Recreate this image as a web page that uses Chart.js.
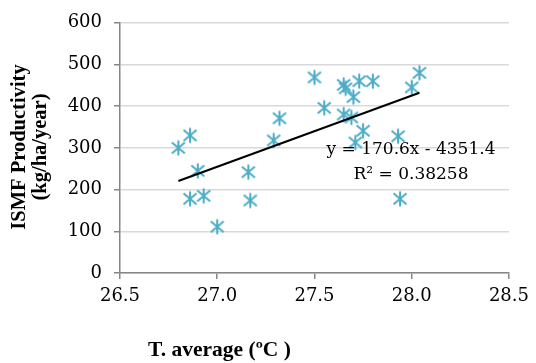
<!DOCTYPE html>
<html>
<head>
<meta charset="utf-8">
<script src="https://cdn.jsdelivr.net/npm/chart.js@4"></script>
<style>
  html, body { margin: 0; padding: 0; background: #fff; }
  #wrap { width: 536px; height: 363px; }
</style>
</head>
<body>
<div id="wrap"><canvas id="chart" width="536" height="363"></canvas></div>
<script>
// temperature (ºC) and productivity (kg/ha/year)
const tempAvg = [26.80, 26.86, 26.90, 26.86, 26.93, 27.00, 27.16, 27.17, 27.29, 27.32,
                 27.50, 27.55, 27.65, 27.66, 27.65, 27.69, 27.70, 27.73, 27.80, 27.75,
                 27.71, 27.93, 27.94, 28.00, 28.04];
const productivity = [300, 330, 245, 178, 185, 111, 242, 174, 318, 371,
                      469, 396, 451, 443, 380, 373, 422, 460, 460, 341,
                      313, 328, 178, 445, 480];

const slope = 170.6;
const intercept = -4351.4;
const eqLines = ['y = 170.6x - 4351.4', 'R\u00b2 = 0.38258'];

const points = tempAvg.map((t, i) => ({ x: t, y: productivity[i] }));
const xMin = Math.min(...tempAvg), xMax = Math.max(...tempAvg);
const trend = [xMin, xMax].map(x => ({ x: x, y: slope * x + intercept }));

const serif = '"DejaVu Serif", "Liberation Serif", serif';
const titleFont = '"Liberation Serif", serif';
const markColor = '#4bacc6';

// Excel-like star marker: X plus a vertical bar
const star = document.createElement('canvas');
star.width = 18; star.height = 18;
(function () {
    const c = star.getContext('2d');
    c.strokeStyle = markColor;
    c.lineWidth = 2;
    c.beginPath();
    c.moveTo(9, 1.5); c.lineTo(9, 16.5);
    c.moveTo(2.5, 3.5); c.lineTo(15.5, 14.5);
    c.moveTo(15.5, 3.5); c.lineTo(2.5, 14.5);
    c.stroke();
})();

const labels = {
    id: 'labels',
    afterDatasetsDraw(chart) {
        const c = chart.ctx;
        c.save();
        c.fillStyle = '#000';
        c.textAlign = 'center';
        c.textBaseline = 'middle';
        c.font = '17px ' + serif;
        c.fillText(eqLines[0], 411, 150);
        c.fillText(eqLines[1], 411, 175);
        c.restore();
    },
    afterDraw(chart) {
        const c = chart.ctx;
        c.save();
        c.fillStyle = '#000';
        c.font = 'bold 21.5px ' + titleFont;
        c.textAlign = 'left';
        c.textBaseline = 'middle';
        c.fillText('T. average (\u00baC )', 148, 350);
        c.font = 'bold 20.5px ' + titleFont;
        c.translate(20, 147);
        c.rotate(-Math.PI / 2);
        c.textAlign = 'center';
        c.fillText('ISMF Productivity', 0, 0);
        c.fillText('(kg/ha/year)', 0, 21);
        c.restore();
    }
};

new Chart(document.getElementById('chart'), {
    type: 'scatter',
    data: {
        datasets: [{
            type: 'line',
            data: trend,
            borderColor: '#000',
            borderWidth: 2,
            pointRadius: 0,
            fill: false
        }, {
            data: points,
            pointStyle: star,
            pointRadius: 8,
            pointHoverRadius: 8
        }]
    },
    options: {
        responsive: false,
        animation: false,
        layout: { padding: { top: 19, right: 20, left: 0, bottom: 0 } },
        plugins: { legend: { display: false }, tooltip: { enabled: false } },
        scales: {
            x: {
                type: 'linear',
                min: 26.5, max: 28.5,
                afterFit: s => { s.height = 90; },
                border: { color: '#868686', width: 1.5 },
                grid: { drawOnChartArea: false, tickColor: '#868686', tickLength: 6, lineWidth: 1.5 },
                ticks: {
                    stepSize: 0.5,
                    color: '#000',
                    padding: 7,
                    font: { family: serif, size: 18 },
                    callback: v => v.toFixed(1)
                }
            },
            y: {
                min: 0, max: 600,
                afterFit: s => { s.width = 120; },
                border: { color: '#868686', width: 1.5 },
                grid: { color: '#d9d9d9', lineWidth: 1.5, tickColor: '#868686', tickLength: 6 },
                ticks: {
                    stepSize: 100,
                    color: '#000',
                    padding: 12,
                    font: { family: serif, size: 18 }
                }
            }
        }
    },
    plugins: [labels]
});
</script>
</body>
</html>
